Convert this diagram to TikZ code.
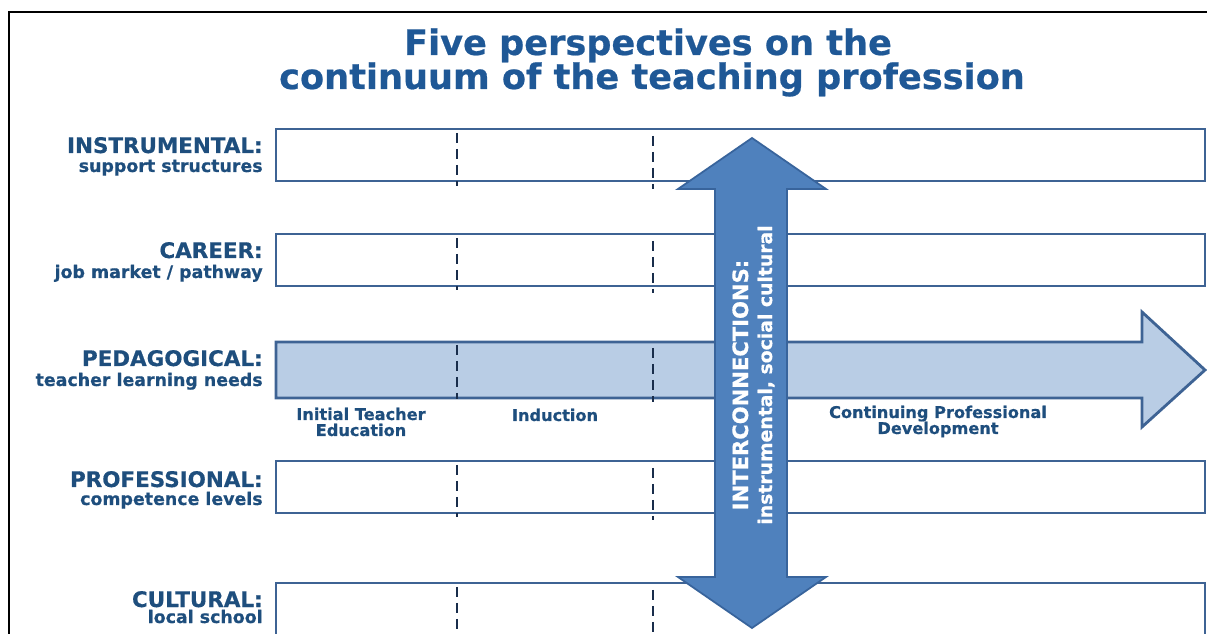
\documentclass[tikz,border=0pt]{standalone}
\usepackage{fontspec}
\setmainfont[BoldFeatures={FakeBold=0.6}]{DejaVu Sans}
\usetikzlibrary{positioning}
\definecolor{titleblue}{RGB}{31,88,150}
\definecolor{lblblue}{RGB}{30,78,125}
\definecolor{boxline}{RGB}{62,99,148}
\definecolor{pedfill}{RGB}{185,205,229}
\definecolor{arrowfill}{RGB}{79,129,189}
\definecolor{arrowline}{RGB}{56,100,156}
\definecolor{dashcol}{RGB}{25,45,75}
\tikzset{
    x=0.02cm, y=-0.02cm,
    frame/.style ={draw=black, line width=1.2pt},
    rowbox/.style ={draw=boxline, line width=1.6pt, fill=white},
    pedarrow/.style ={draw=boxline, line width=1.6pt, fill=pedfill, line join=miter},
    interarrow/.style ={draw=arrowline, line width=1pt, fill=arrowfill, line join=miter},
    phaseline/.style ={draw=dashcol, line width=1.5pt, dash pattern=on 5.5pt off 3.6pt},
    titletext/.style ={anchor=base, inner sep=0, text=titleblue, font=\bfseries\fontsize{20}{24}\selectfont},
    rowhead/.style ={anchor=base east, inner sep=0, text=lblblue, font=\bfseries\fontsize{12.2}{14}\selectfont},
    rowsub/.style ={anchor=base east, inner sep=0, text=lblblue, font=\bfseries\fontsize{9.9}{12}\selectfont},
    phaselbl/.style ={anchor=base, inner sep=0, text=lblblue, font=\bfseries\fontsize{9.2}{11}\selectfont},
    intertext/.style ={anchor=base, inner sep=0, rotate=90, text=white, font=\bfseries}
}

\begin{document}
\begin{tikzpicture}
    \clip (0,0) rectangle (1207,634);
    \draw[frame] (9,640) -- (9,12) -- (1207,12);

    % title
    \node[titletext] (title1) at (648,55) {Five perspectives on the};
    \node[titletext] (title2) at (652,89) {continuum of the teaching profession};

    % the five rows
    \draw[rowbox] (276,129) rectangle (1205,181);
    \draw[rowbox] (276,234) rectangle (1205,286);
    \draw[pedarrow] (276,342) -- (1142,342) -- (1142,312) -- (1205,370)
        -- (1142,427) -- (1142,398) -- (276,398) -- cycle;
    \draw[rowbox] (276,461) rectangle (1205,513);
    \draw[rowbox] (276,583) rectangle (1205,660);

    % phase borders
    \foreach \top/\bot in {133/186, 238/290, 345/399, 465/517, 587/640}{
        \draw[phaseline] (457,\top) -- (457,\bot);
        \draw[phaseline] (653,\top+3) -- (653,\bot+3);
    }

    % interconnections
    \draw[interarrow] (715,189) -- (678,189) -- (752,138) -- (826,189) -- (787,189)
        -- (787,577) -- (826,577) -- (752,628) -- (678,577) -- (715,577) -- cycle;
    \node[intertext, font=\bfseries\fontsize{12}{14}\selectfont] (inter1) at (748,385) {INTERCONNECTIONS:};
    \node[intertext, font=\bfseries\fontsize{10.7}{13}\selectfont] (inter2) at (772,375) {instrumental, social cultural};

    % row labels
    \node[rowhead] (instr) at (263,153) {INSTRUMENTAL:};
    \node[rowsub] (instrS) at (263,172) {support structures};
    \node[rowhead] (career) at (263,258) {CAREER:};
    \node[rowsub] (careerS) at (263,278) {job market / pathway};
    \node[rowhead] (ped) at (263,366) {PEDAGOGICAL:};
    \node[rowsub] (pedS) at (263,386) {teacher learning needs};
    \node[rowhead] (prof) at (263,487) {PROFESSIONAL:};
    \node[rowsub] (profS) at (263,505) {competence levels};
    \node[rowhead] (cult) at (263,607) {CULTURAL:};
    \node[rowsub] (cultS) at (263,623) {local school};

    % phases
    \node[phaselbl] (ite) at (361,420) {Initial Teacher};
    \node[phaselbl] (iteB) at (361,436) {Education};
    \node[phaselbl] (ind) at (555,421) {Induction};
    \node[phaselbl] (cpd) at (938,418) {Continuing Professional};
    \node[phaselbl] (cpdB) at (938,434) {Development};
\end{tikzpicture}
\end{document}
